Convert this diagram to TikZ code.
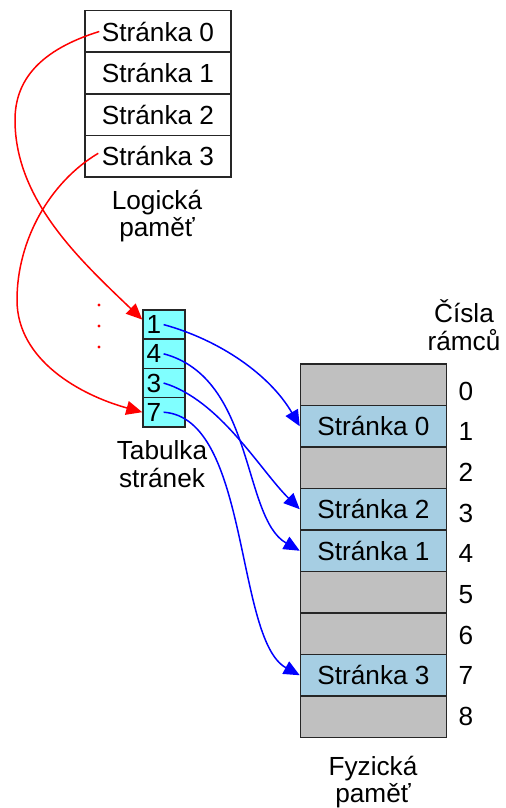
\documentclass[tikz,border=0pt]{standalone}
\usepackage{fontspec}
\setmainfont{Liberation Sans}
\usetikzlibrary{
arrows.meta,
positioning,
calc
}
\definecolor{framegray}{RGB}{192,192,192}
\definecolor{pageblue}{RGB}{166,206,227}
\definecolor{tablecyan}{RGB}{128,255,255}

\begin{document}
\begin{tikzpicture}[x=0.5pt,y=-0.5pt,
    every node/.style={font=\fontsize{13.1}{13.7}\selectfont},
    cell/.style={draw=black!85,line width=0.75pt,minimum width=73pt,minimum height=20.75pt,inner sep=0pt},
    ptcell/.style={draw=black!85,line width=0.75pt,fill=tablecyan,minimum width=21pt,minimum height=14.6pt,inner sep=0pt},
    redarr/.style={red,line width=0.75pt,-{Triangle[length=8pt,width=7pt]}},
    bluearr/.style={blue,line width=0.75pt,-{Triangle[length=8pt,width=7pt]}},
    mylabel/.style={align=center,inner sep=0pt}]
    \useasboundingbox (0,0) rectangle (506,808);
    % logical memory
    \foreach \i in {0,...,3}
        \node[cell] (lp\i) at (158,{31.5+41.6*\i}) {Stránka \i};
    \node[mylabel] (logl) at (157,216) {Logická\\paměť};
    % page table
    \foreach \n [count=\k from 0] in {1,4,3,7} {
        \node[ptcell] (pt\n) at (164,{324.6+29.2*\k}) {};
        \node[anchor=west,inner sep=1pt] (n\n) at ($(pt\n.west)+(2,0)$) {\n};
    }
    \foreach \y in {305,326,347}
        \fill[red] (99,\y) circle (0.8pt);
    \node[mylabel] (ptl) at (162,464) {Tabulka\\stránek};
    % physical memory
    \foreach \r in {0,2,5,6,8}
        \node[cell,fill=framegray] (pm\r) at (373.5,{384.75+41.5*\r}) {};
    \foreach \r/\p in {1/0,3/2,4/1,7/3}
        \node[cell,fill=pageblue] (pm\r) at (373.5,{384.75+41.5*\r}) {Stránka \p};
    \foreach \r in {0,...,8}
        \node (fn\r) at (466,{391+40.7*\r}) {\r};
    \node[mylabel] (fnl) at (464,325) {Čísla\\rámců};
    \node[mylabel] (phl) at (373,782) {Fyzická\\paměť};
    % logical -> page table
    \draw[redarr] ($(lp0.west)+(15,0)$) .. controls (40,50) and (15,80) .. (15,120)
        .. controls (15,200) and (80,260) .. ($(pt1.west)+(0,-5)$);
    \draw[redarr] ($(lp3.west)+(14,-3)$) .. controls (50,182) and (17,240) .. (17,300)
        .. controls (17,360) and (80,395) .. (pt7.west);
    % page table -> frames
    \draw[bluearr] (n1.east) .. controls (220,340) and (270,375) .. (pm1.west);
    \draw[bluearr] (n4.east) .. controls (255,378) and (242,518) .. (pm4.west);
    \draw[bluearr] (n3.east) .. controls (220,400) and (260,470) .. (pm3.west);
    \draw[bluearr] (n7.east) .. controls (250,418) and (235,640) .. (pm7.west);
\end{tikzpicture}
\end{document}
